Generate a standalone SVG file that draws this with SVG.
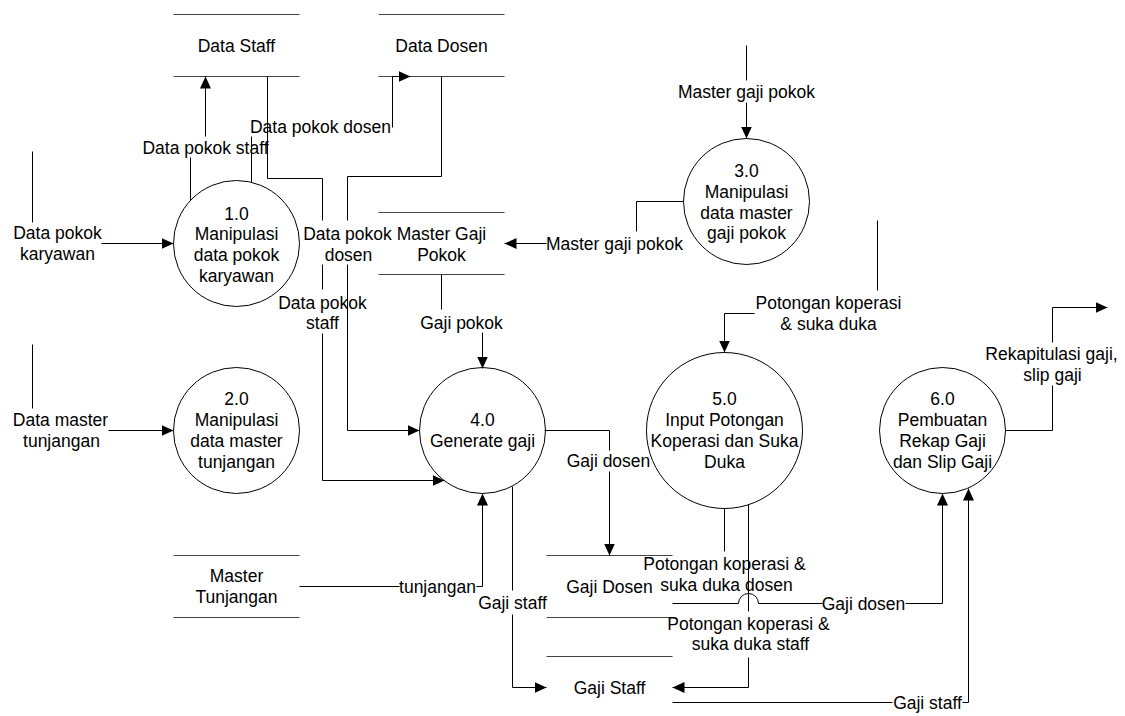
<svg xmlns="http://www.w3.org/2000/svg" width="1125" height="716" viewBox="0 0 1125 716">
<defs>
<marker id="arr" markerUnits="userSpaceOnUse" markerWidth="12" markerHeight="11" refX="12" refY="5.5" orient="auto" viewBox="0 0 12 11">
<path d="M0,0 L12,5.5 L0,11 z" fill="#000"/>
</marker>
<style>
text{font-family:"Liberation Sans",Arial,sans-serif;font-size:17.5px;fill:#000;text-anchor:middle}
.ln{fill:none;stroke:#000;stroke-width:1}
.st{fill:none;stroke:#444;stroke-width:1}
.pc{fill:#fff;stroke:#000;stroke-width:1}
.ar{marker-end:url(#arr)}
</style>
</defs>
<rect width="1125" height="716" fill="#fff"/>
<g transform="translate(0.5 0.5)">
<g id="store-data-staff">
<path class="st" d="M173,14H299M173,76H299"/>
<text x="236" y="51">Data Staff</text>
</g>
<g id="store-data-dosen">
<path class="st" d="M378,14H504M378,76H504"/>
<text x="441" y="51">Data Dosen</text>
</g>
<g id="store-master-gaji-pokok">
<path class="st" d="M378,212H504M378,274H504"/>
<text x="441" y="239">Master Gaji</text>
<text x="441" y="260">Pokok</text>
</g>
<g id="store-master-tunjangan">
<path class="st" d="M173,555H299M173,617H299"/>
<text x="236" y="581">Master</text>
<text x="236" y="602">Tunjangan</text>
</g>
<g id="store-gaji-dosen">
<path class="st" d="M546,555H672M546,617H672"/>
<text x="609" y="592">Gaji Dosen</text>
</g>
<g id="store-gaji-staff">
<path class="st" d="M546,656H672M546,718H672"/>
<text x="609" y="693">Gaji Staff</text>
</g>
<g id="p1">
<circle class="pc" cx="236" cy="243" r="63"/>
<text x="236" y="219">1.0</text>
<text x="236" y="239">Manipulasi</text>
<text x="236" y="260">data pokok</text>
<text x="236" y="281">karyawan</text>
</g>
<g id="p2">
<circle class="pc" cx="236" cy="430" r="63"/>
<text x="236" y="404">2.0</text>
<text x="236" y="425">Manipulasi</text>
<text x="236" y="446">data master</text>
<text x="236" y="467">tunjangan</text>
</g>
<g id="p3">
<circle class="pc" cx="746" cy="201" r="63"/>
<text x="746" y="176">3.0</text>
<text x="746" y="197">Manipulasi</text>
<text x="746" y="218">data master</text>
<text x="746" y="238">gaji pokok</text>
</g>
<g id="p4">
<circle class="pc" cx="482" cy="430" r="63"/>
<text x="482" y="425">4.0</text>
<text x="482" y="446">Generate gaji</text>
</g>
<g id="p5">
<circle class="pc" cx="724" cy="430" r="78"/>
<text x="724" y="404">5.0</text>
<text x="724" y="425">Input Potongan</text>
<text x="724" y="446">Koperasi dan Suka</text>
<text x="724" y="467">Duka</text>
</g>
<g id="p6">
<circle class="pc" cx="942" cy="430" r="63"/>
<text x="942" y="404">6.0</text>
<text x="942" y="425">Pembuatan</text>
<text x="942" y="446">Rekap Gaji</text>
<text x="942" y="467">dan Slip Gaji</text>
</g>
<g id="connectors">
<path class="ln" d="M32,151V222"/>
<path class="ln ar" d="M101,243H173"/>
<text x="57" y="238">Data pokok</text>
<text x="57" y="259">karyawan</text>

<path class="ln" d="M32,344V408"/>
<path class="ln ar" d="M108,430H173"/>
<text x="60" y="425">Data master</text>
<text x="61" y="446">tunjangan</text>

<path class="ln" d="M190,200V157"/>
<path class="ln ar" d="M205,136V76"/>
<text x="205" y="153">Data pokok staff</text>

<path class="ln" d="M251,182V136"/>
<path class="ln ar" d="M392,127V76H410"/>
<text x="320" y="132">Data pokok dosen</text>

<path class="ln" d="M267,76V178H322V220"/>
<path class="ln" d="M322,264V289"/>
<path class="ln ar" d="M322,333V480H444"/>
<text x="322" y="308">Data pokok</text>
<text x="322" y="328">staff</text>

<path class="ln" d="M441,76V176H347V220"/>
<path class="ln ar" d="M347,264V430H419"/>
<text x="347" y="239">Data pokok</text>
<text x="348" y="260">dosen</text>

<path class="ln" d="M746,45V80"/>
<path class="ln ar" d="M746,102V138"/>
<text x="746" y="97">Master gaji pokok</text>

<path class="ln" d="M683,201H636V231"/>
<path class="ln ar" d="M546,243H504"/>
<text x="614" y="249">Master gaji pokok</text>

<path class="ln" d="M441,274V309"/>
<path class="ln ar" d="M482,332V368"/>
<text x="461" y="328">Gaji pokok</text>

<path class="ln" d="M299,586H399"/>
<path class="ln ar" d="M476,586H482V493"/>
<text x="437" y="592">tunjangan</text>

<path class="ln" d="M544,430H609V450"/>
<path class="ln ar" d="M609,471V555"/>
<text x="608" y="466">Gaji dosen</text>

<path class="ln" d="M512,486V590"/>
<path class="ln ar" d="M512,614V687H546"/>
<text x="512" y="608">Gaji staff</text>

<path class="ln" d="M877,220V290"/>
<path class="ln ar" d="M754,313H724V352"/>
<text x="828" y="308">Potongan koperasi</text>
<text x="828" y="329">&amp; suka duka</text>

<path class="ln" d="M724,508V551"/>
<text x="724" y="569">Potongan koperasi &amp;</text>
<text x="726" y="590">suka duka dosen</text>

<path class="ln" d="M748,504V611"/>
<path class="ln ar" d="M748,657V687H672"/>
<text x="748" y="629">Potongan koperasi &amp;</text>
<text x="750" y="649">suka duka staff</text>

<path class="ln" d="M672,603H738A10,10 0 0 1 758,603H822"/>
<path class="ln ar" d="M905,603H942V493"/>
<text x="863" y="609">Gaji dosen</text>

<path class="ln" d="M672,702H892"/>
<path class="ln ar" d="M962,702H968V488"/>
<text x="927" y="708">Gaji staff</text>

<path class="ln" d="M1005,430H1052V385"/>
<path class="ln ar" d="M1052,342V307H1107"/>
<text x="1051" y="359">Rekapitulasi gaji,</text>
<text x="1052" y="380">slip gaji</text>
</g>
</g>
</svg>
